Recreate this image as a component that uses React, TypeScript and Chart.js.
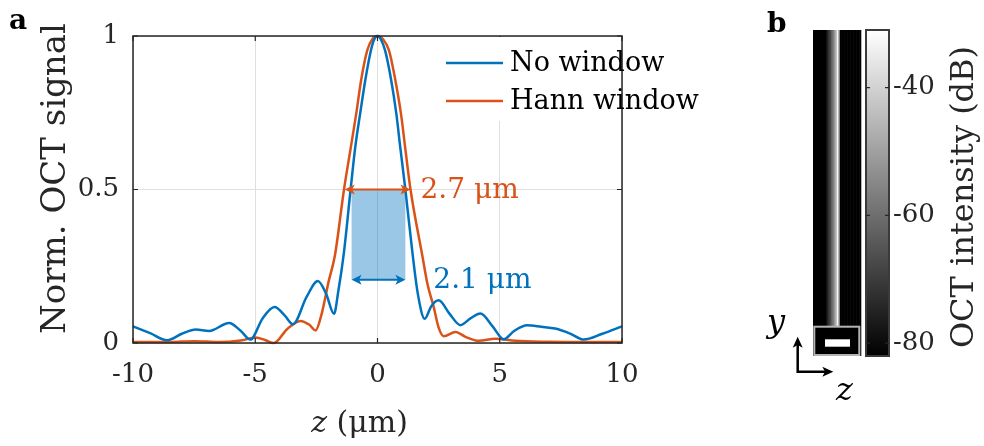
import React, { useEffect, useRef } from 'react';
import { Chart, registerables } from 'chart.js';
Chart.register(...registerables);

const FONT = '"DejaVu Serif", serif';
const INK = '#262626';
const BLUE = '#0072BD';
const ORANGE = '#D95319';

// ---- Panel a data ----
const seriesLabels = ['No window', 'Hann window'];
const noWindowZ = [-10, -9.3, -8.6, -8.0, -7.43, -6.89, -6.07, -5.6, -5.2, -4.7, -4.21, -3.8, -3.46, -2.9, -2.44, -2.1, -1.78, -1.6, -1.38, -1.1, -0.91, -0.71, -0.5, -0.27, -0.14, 0, 0.15, 0.31, 0.56, 0.77, 0.93, 1.14, 1.42, 1.65, 1.93, 2.2, 2.5, 2.95, 3.39, 3.8, 4.21, 4.7, 5.16, 5.6, 6.12, 6.7, 7.27, 7.9, 8.43, 9.2, 10];
const noWindowSignal = [0.054, 0.032, 0.009, 0.03, 0.044, 0.039, 0.065, 0.04, 0.011, 0.08, 0.117, 0.09, 0.061, 0.15, 0.202, 0.16, 0.095, 0.17, 0.29, 0.5, 0.638, 0.747, 0.856, 0.953, 0.988, 1, 0.987, 0.953, 0.856, 0.747, 0.638, 0.5, 0.3, 0.16, 0.079, 0.12, 0.139, 0.095, 0.058, 0.08, 0.096, 0.055, 0.012, 0.04, 0.058, 0.053, 0.047, 0.03, 0.011, 0.03, 0.054];
const hannZ = [-10, -8.5, -7.5, -6.5, -5.6, -4.98, -4.6, -4.24, -3.7, -3.15, -2.8, -2.53, -2.3, -2.0, -1.74, -1.37, -1.09, -0.87, -0.67, -0.42, -0.2, 0, 0.22, 0.47, 0.73, 0.96, 1.13, 1.35, 1.83, 2.05, 2.3, 2.5, 2.71, 3.19, 3.6, 4.14, 4.82, 5.64, 7, 8.5, 10];
const hannSignal = [0.003, 0.003, 0.006, 0.003, 0.008, 0.018, 0.01, 0.0, 0.045, 0.072, 0.06, 0.041, 0.09, 0.2, 0.286, 0.5, 0.638, 0.747, 0.856, 0.953, 0.991, 1, 0.99, 0.953, 0.856, 0.747, 0.638, 0.5, 0.286, 0.19, 0.117, 0.05, 0.022, 0.036, 0.02, 0.007, 0.014, 0.007, 0.004, 0.003, 0.003];
const xTicks = [-10, -5, 0, 5, 10];
const yTicks = [0, 0.5, 1];
const fwhmNoWindow = [-1.06, 1.14];
const fwhmHann = [-1.34, 1.35];
const fwhmLabels = ['2.1 μm', '2.7 μm'];
const noWindowArrowLevel = 0.206;
const halfMax = 0.5;

// ---- Panel b data ----
const cbTicks = [-80, -60, -40];
const cbRange = [-82, -31];
const stripeProfile = [-90, -90, -90, -90, -90, -90, -90, -90, -90, -76, -72, -68, -63, -58, -52, -45, -33, -52, -90, -90, -90, -90, -90, -90, -90, -90, -90, -90, -90, -90, -90, -90];

function arrowHead(ctx: CanvasRenderingContext2D, tx: number, ty: number, dx: number, dy: number, len: number, half: number) {
  const bx = tx - dx * len, by = ty - dy * len;
  const nx = -dy, ny = dx;
  ctx.beginPath();
  ctx.moveTo(tx, ty);
  ctx.lineTo(bx + nx * half, by + ny * half);
  ctx.lineTo(tx - dx * len * 0.75, ty - dy * len * 0.75);
  ctx.lineTo(bx - nx * half, by - ny * half);
  ctx.closePath();
  ctx.fill();
}

function dblArrow(ctx: CanvasRenderingContext2D, x1: number, x2: number, y: number, color: string) {
  ctx.save();
  ctx.strokeStyle = color;
  ctx.fillStyle = color;
  ctx.lineWidth = 2.2;
  ctx.beginPath();
  ctx.moveTo(x1 + 5, y);
  ctx.lineTo(x2 - 5, y);
  ctx.stroke();
  arrowHead(ctx, x1, y, -1, 0, 10, 5);
  arrowHead(ctx, x2, y, 1, 0, 10, 5);
  ctx.restore();
}

const panelAPlugin = {
  id: 'panelA',
  beforeDatasetsDraw(chart: any) {
    const { ctx, scales: { x, y } } = chart;
    ctx.save();
    ctx.fillStyle = 'rgba(0,114,189,0.4)';
    const l = x.getPixelForValue(fwhmNoWindow[0]);
    const r = x.getPixelForValue(fwhmNoWindow[1]);
    const t = y.getPixelForValue(halfMax);
    const b = y.getPixelForValue(noWindowArrowLevel);
    ctx.fillRect(l, t, r - l, b - t);
    ctx.restore();
  },
  afterDraw(chart: any) {
    const { ctx, chartArea: ca, scales: { x, y } } = chart;
    ctx.save();
    ctx.strokeStyle = INK;
    ctx.lineWidth = 1.5;
    ctx.strokeRect(ca.left, ca.top, ca.right - ca.left, ca.bottom - ca.top);
    ctx.lineWidth = 1.2;
    ctx.beginPath();
    xTicks.forEach((v) => {
      const px = x.getPixelForValue(v);
      ctx.moveTo(px, ca.bottom); ctx.lineTo(px, ca.bottom - 5);
      ctx.moveTo(px, ca.top); ctx.lineTo(px, ca.top + 5);
    });
    yTicks.forEach((v) => {
      const py = y.getPixelForValue(v);
      ctx.moveTo(ca.left, py); ctx.lineTo(ca.left + 5, py);
      ctx.moveTo(ca.right, py); ctx.lineTo(ca.right - 5, py);
    });
    ctx.stroke();

    dblArrow(ctx, x.getPixelForValue(fwhmHann[0]), x.getPixelForValue(fwhmHann[1]), y.getPixelForValue(halfMax), ORANGE);
    dblArrow(ctx, x.getPixelForValue(fwhmNoWindow[0]), x.getPixelForValue(fwhmNoWindow[1]), y.getPixelForValue(noWindowArrowLevel), BLUE);
    ctx.font = `28px ${FONT}`;
    ctx.textBaseline = 'alphabetic';
    ctx.textAlign = 'left';
    ctx.fillStyle = ORANGE;
    ctx.fillText(fwhmLabels[1], x.getPixelForValue(fwhmHann[1]) + 10, y.getPixelForValue(halfMax) + 8);
    ctx.fillStyle = BLUE;
    ctx.fillText(fwhmLabels[0], x.getPixelForValue(fwhmNoWindow[1]) + 28, y.getPixelForValue(noWindowArrowLevel) + 8);

    ctx.fillStyle = '#ffffff';
    ctx.fillRect(440, ca.top + 1, ca.right - 441, 84);
    const colors = [BLUE, ORANGE];
    const rows = [63, 101];
    ctx.font = `27px ${FONT}`;
    ctx.textBaseline = 'middle';
    seriesLabels.forEach((lab, i) => {
      ctx.strokeStyle = colors[i];
      ctx.lineWidth = 2.5;
      ctx.beginPath();
      ctx.moveTo(446, rows[i]);
      ctx.lineTo(503, rows[i]);
      ctx.stroke();
      ctx.fillStyle = '#000';
      ctx.fillText(lab, 510, rows[i] + 1);
    });

    ctx.fillStyle = INK;
    ctx.textBaseline = 'alphabetic';
    ctx.font = `italic 30px ${FONT}`;
    const wz = ctx.measureText('z').width;
    ctx.font = `30px ${FONT}`;
    const wr = ctx.measureText(' (μm)').width;
    const cx = (ca.left + ca.right) / 2 - 18;
    const sx = cx - (wz + wr) / 2;
    ctx.font = `italic 30px ${FONT}`;
    ctx.fillText('z', sx, 432);
    ctx.font = `30px ${FONT}`;
    ctx.fillText(' (μm)', sx + wz, 432);

    ctx.save();
    ctx.translate(65, (ca.top + ca.bottom) / 2 - 11);
    ctx.rotate(-Math.PI / 2);
    ctx.textAlign = 'center';
    ctx.font = `34px ${FONT}`;
    ctx.fillText('Norm. OCT signal', 0, 0);
    ctx.restore();

    ctx.fillStyle = '#000';
    ctx.textAlign = 'left';
    ctx.font = `bold 28px ${FONT}`;
    ctx.fillText('a', 9, 29);
    ctx.restore();
  },
};

function grayFor(v: number) {
  const t = Math.max(0, Math.min(1, (v - cbRange[0]) / (cbRange[1] - cbRange[0])));
  const g = Math.round(t * 255);
  return `rgb(${g},${g},${g})`;
}

const panelBPlugin = {
  id: 'panelB',
  beforeDatasetsDraw(chart: any) {
    const { ctx, chartArea: ca, scales: { y } } = chart;
    ctx.save();
    const grad = ctx.createLinearGradient(0, y.getPixelForValue(cbRange[1]), 0, y.getPixelForValue(cbRange[0]));
    grad.addColorStop(0, grayFor(cbRange[1]));
    grad.addColorStop(1, grayFor(cbRange[0]));
    ctx.fillStyle = grad;
    ctx.fillRect(ca.left, ca.top, ca.right - ca.left, ca.bottom - ca.top);
    ctx.strokeStyle = '#3a3a3a';
    ctx.lineWidth = 2;
    ctx.strokeRect(ca.left, ca.top, ca.right - ca.left, ca.bottom - ca.top);
    ctx.lineWidth = 1.2;
    ctx.strokeStyle = INK;
    ctx.beginPath();
    cbTicks.forEach((v) => {
      const py = y.getPixelForValue(v);
      ctx.moveTo(ca.right, py); ctx.lineTo(ca.right - 4, py);
      ctx.moveTo(ca.left, py); ctx.lineTo(ca.left + 4, py);
    });
    ctx.stroke();

    const imL = 53, imR = 100.7;
    const colW = (imR - imL) / stripeProfile.length;
    stripeProfile.forEach((v, i) => {
      ctx.fillStyle = grayFor(v);
      ctx.fillRect(imL + i * colW, ca.top, colW + 0.6, ca.bottom - ca.top);
    });
    ctx.fillStyle = '#000';
    ctx.fillRect(54.3, 326.7, 45, 28.3);
    ctx.strokeStyle = '#b4b4b4';
    ctx.lineWidth = 2;
    ctx.strokeRect(54.3, 326.7, 45, 28.3);
    ctx.fillStyle = '#fff';
    ctx.fillRect(65, 339.3, 25, 7.4);

    ctx.strokeStyle = '#000';
    ctx.fillStyle = '#000';
    ctx.lineWidth = 2.5;
    ctx.beginPath();
    ctx.moveTo(37.7, 372.9);
    ctx.lineTo(37.7, 344);
    ctx.moveTo(36.5, 371.7);
    ctx.lineTo(66, 371.7);
    ctx.stroke();
    arrowHead(ctx, 37.7, 336.7, 0, -1, 11, 5);
    arrowHead(ctx, 73.3, 371.7, 1, 0, 11, 5);
    ctx.font = `italic 32px ${FONT}`;
    ctx.textBaseline = 'alphabetic';
    ctx.textAlign = 'left';
    ctx.fillText('y', 7, 332);
    ctx.fillText('z', 76, 400);

    ctx.font = `bold 28px ${FONT}`;
    ctx.fillText('b', 7, 32);

    ctx.save();
    ctx.fillStyle = INK;
    ctx.translate(213, 197);
    ctx.rotate(-Math.PI / 2);
    ctx.textAlign = 'center';
    ctx.font = `32px ${FONT}`;
    ctx.fillText('OCT intensity (dB)', 0, 0);
    ctx.restore();
    ctx.restore();
  },
};

export default function App() {
  const aRef = useRef<HTMLCanvasElement>(null);
  const bRef = useRef<HTMLCanvasElement>(null);

  useEffect(() => {
    document.body.style.margin = '0';
    const tickFont = { family: FONT, size: 26 };
    const ca = new Chart(aRef.current!, {
      type: 'line',
      data: {
        datasets: [
          {
            label: seriesLabels[0],
            data: noWindowZ.map((z, i) => ({ x: z, y: noWindowSignal[i] })),
            borderColor: BLUE,
            borderWidth: 2.5,
            pointRadius: 0,
            cubicInterpolationMode: 'monotone',
            fill: false,
            clip: false,
          },
          {
            label: seriesLabels[1],
            data: hannZ.map((z, i) => ({ x: z, y: hannSignal[i] })),
            borderColor: ORANGE,
            borderWidth: 2.5,
            pointRadius: 0,
            cubicInterpolationMode: 'monotone',
            fill: false,
            clip: false,
          },
        ],
      },
      options: {
        responsive: false,
        animation: false,
        layout: { padding: { left: 0, right: 118, top: 36, bottom: 0 } },
        scales: {
          x: {
            type: 'linear',
            min: -10,
            max: 10,
            afterBuildTicks: (s: any) => { s.ticks = xTicks.map((v) => ({ value: v })); },
            ticks: { font: tickFont, color: INK, padding: 17, maxRotation: 0, callback: (v: any) => String(v) },
            grid: { color: '#dfdfdf', drawTicks: false, lineWidth: 1 },
            border: { display: false },
            afterFit: (s: any) => { s.height = 103; },
          },
          y: {
            type: 'linear',
            min: 0,
            max: 1,
            afterBuildTicks: (s: any) => { s.ticks = yTicks.map((v) => ({ value: v })); },
            ticks: { font: tickFont, color: INK, padding: 14, callback: (v: any) => String(v) },
            grid: { color: '#dfdfdf', drawTicks: false, lineWidth: 1 },
            border: { display: false },
            afterFit: (s: any) => { s.width = 133; },
          },
        },
        plugins: { legend: { display: false }, tooltip: { enabled: false } },
      },
      plugins: [panelAPlugin],
    } as any);

    const cb = new Chart(bRef.current!, {
      type: 'scatter',
      data: { datasets: [{ label: 'OCT intensity (dB)', data: [] }] },
      options: {
        responsive: false,
        animation: false,
        layout: { padding: { left: 106, right: 0, top: 30, bottom: 90 } },
        scales: {
          x: { type: 'linear', display: false, min: 0, max: 1 },
          y: {
            type: 'linear',
            position: 'right',
            min: cbRange[0],
            max: cbRange[1],
            afterBuildTicks: (s: any) => { s.ticks = cbTicks.map((v) => ({ value: v })); },
            ticks: { font: tickFont, color: INK, padding: 4, callback: (v: any) => String(v) },
            grid: { display: false, drawTicks: false },
            border: { display: false },
            afterFit: (s: any) => { s.width = 95; },
          },
        },
        plugins: { legend: { display: false }, tooltip: { enabled: false } },
      },
      plugins: [panelBPlugin],
    } as any);

    return () => {
      ca.destroy();
      cb.destroy();
    };
  }, []);

  return (
    <div style={{ position: 'relative', width: 984, height: 446, background: '#fff' }}>
      <canvas ref={aRef} width={740} height={446} style={{ position: 'absolute', left: 0, top: 0, width: 740, height: 446 }} />
      <canvas ref={bRef} width={224} height={446} style={{ position: 'absolute', left: 760, top: 0, width: 224, height: 446 }} />
    </div>
  );
}
